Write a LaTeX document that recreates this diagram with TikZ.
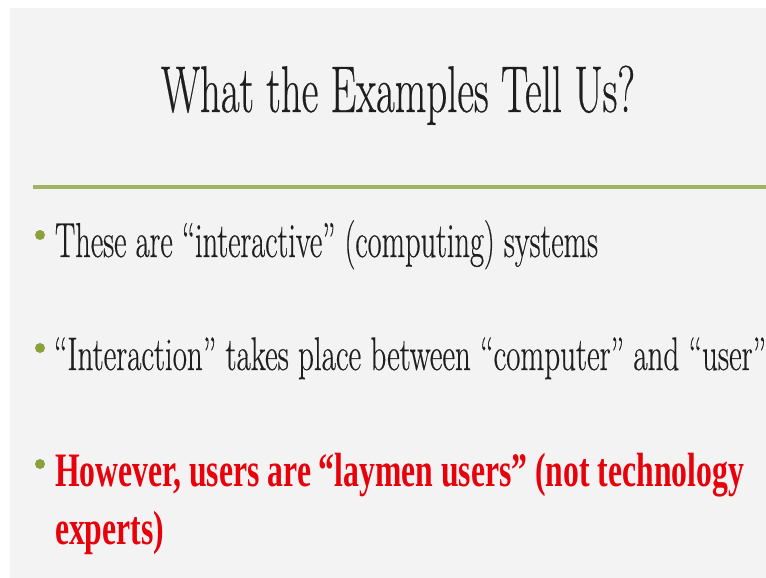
\documentclass[tikz,border=0pt]{standalone}
\usepackage{fontspec}
\usepackage{graphicx}
\newfontfamily\redfont{Liberation Serif}
\newfontfamily\blackfont{Latin Modern Roman}[FakeBold=0.5]
\definecolor{slidebg}{RGB}{243,243,243}
\definecolor{rulegreen}{RGB}{160,180,100}
\definecolor{bulletgreen}{RGB}{140,160,60}
\definecolor{txt}{RGB}{30,30,30}
\definecolor{hired}{RGB}{232,0,10}
\tikzset{
  txtnode/.style={anchor=base west, inner sep=0pt, outer sep=0pt, text=txt},
  bulletdot/.style={circle, fill=bulletgreen, inner sep=0pt, minimum size=10pt},
}
\begin{document}
\begin{tikzpicture}[x=1pt,y=-1pt]
\useasboundingbox (0,0) rectangle (766,578);
\fill[white] (0,0) rectangle (766,578);
\fill[slidebg] (10,8) rectangle (766,578);
% title
\node[txtnode] (title) at (161,112) {\blackfont\fontsize{66}{70}\selectfont\resizebox{474pt}{\height}{What the Examples Tell Us?}};
% rule
\coordinate (ruleL) at (33,187);
\coordinate (ruleR) at (766,187);
\draw[rulegreen, line width=3.5pt] (ruleL) -- (ruleR);
% bullets
\node[bulletdot] (b1) at (40,235) {};
\node[bulletdot] (b2) at (40,348) {};
\node[bulletdot] (b3) at (40,464) {};
\node[txtnode] (t1) at (55,257) {\blackfont\fontsize{49}{58}\selectfont\resizebox{543pt}{\height}{These are “interactive” (computing) systems}};
\node[txtnode] (t2) at (54,370) {\blackfont\fontsize{47}{58}\selectfont\resizebox{712pt}{\height}{“Interaction” takes place between “computer” and “user”}};
\node[txtnode, text=hired] (t3) at (55,486) {\redfont\bfseries\fontsize{48}{58}\selectfont\resizebox{689pt}{\height}{\begin{tabular}[t]{@{}l@{}}However, users are “laymen users” (not technology\\experts)\end{tabular}}};
\end{tikzpicture}
\end{document}
